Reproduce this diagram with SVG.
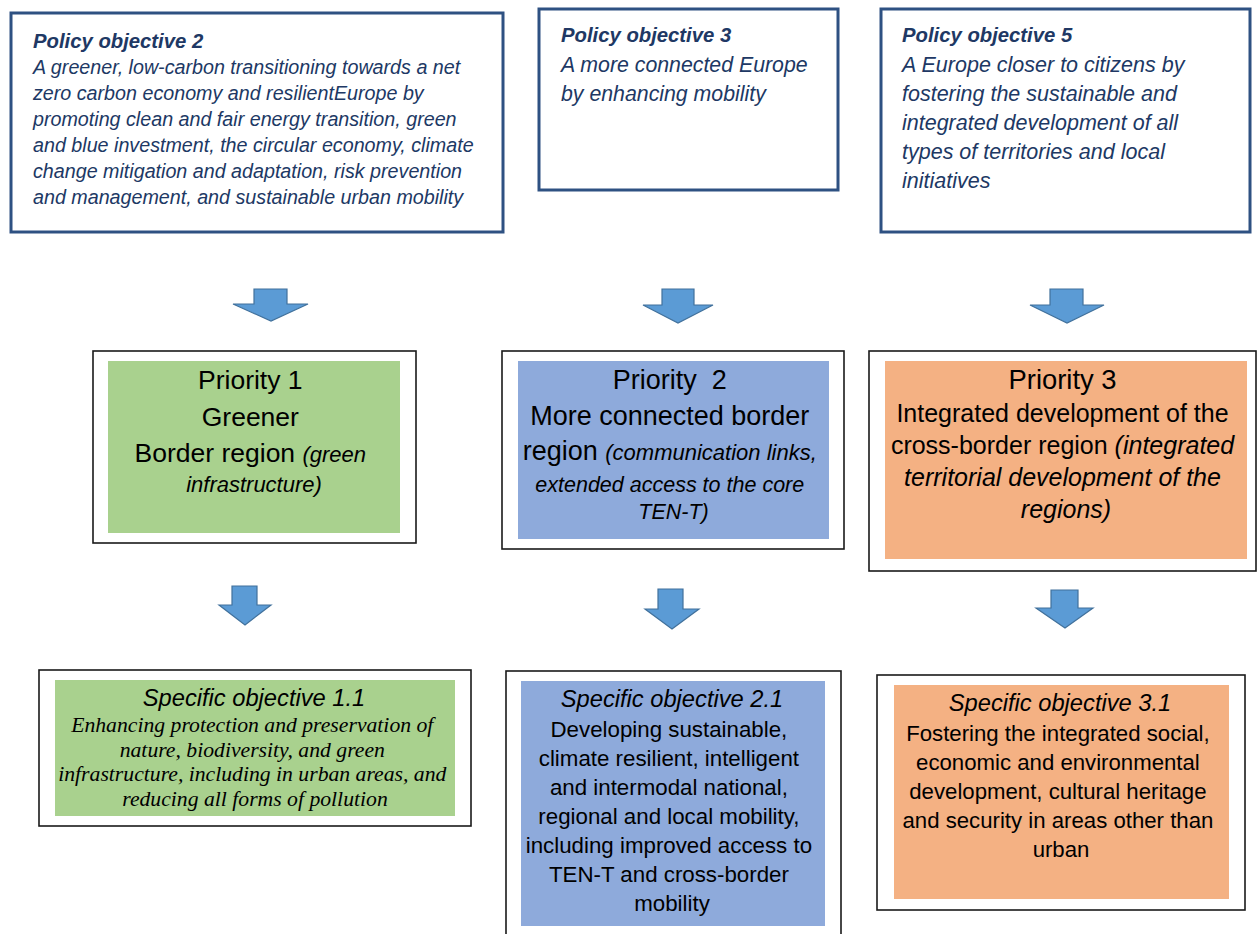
<svg xmlns="http://www.w3.org/2000/svg" width="1257" height="934" viewBox="0 0 1257 934">
<style>
.po{fill:#fff;stroke:#2E5182;stroke-width:3}
.ob{fill:#fff;stroke:#1a1a1a;stroke-width:1.6}
.g{fill:#A9D18E}.b{fill:#8EAADB}.o{fill:#F4B183}
.pt{font-family:"Liberation Sans",Arial,sans-serif;font-style:italic;font-weight:bold;font-size:20.3px;fill:#203864}
.pb{font-family:"Liberation Sans",Arial,sans-serif;font-style:italic;fill:#203864}
.t{font-family:"Liberation Sans",Arial,sans-serif;fill:#000;text-anchor:middle}
.i{font-style:italic}
.tr{font-family:"Liberation Serif","Times New Roman",serif;font-style:italic;fill:#000;text-anchor:middle;font-size:21.7px}
.arr{fill:#5B9BD5;stroke:#41719C;stroke-width:1.2;stroke-linejoin:miter}
</style>
<rect width="1257" height="934" fill="#fff"/>

<g id="po2">
<rect class="po" x="11" y="13" width="492" height="219"/>
<text class="pt" x="33" y="48">Policy objective 2</text>
<text class="pb" font-size="19.7">
<tspan x="33" y="74">A greener, low-carbon transitioning towards a net</tspan>
<tspan x="33" y="100">zero carbon economy and resilientEurope by</tspan>
<tspan x="33" y="126">promoting clean and fair energy transition, green</tspan>
<tspan x="33" y="152">and blue investment, the circular economy, climate</tspan>
<tspan x="33" y="178">change mitigation and adaptation, risk prevention</tspan>
<tspan x="33" y="204">and management, and sustainable urban mobility</tspan>
</text>
</g>

<g id="po3">
<rect class="po" x="539" y="9" width="299" height="181"/>
<text class="pt" x="561" y="42">Policy objective 3</text>
<text class="pb" font-size="21.3">
<tspan x="561" y="72">A more connected Europe</tspan>
<tspan x="561" y="101">by enhancing mobility</tspan>
</text>
</g>

<g id="po5">
<rect class="po" x="881" y="9" width="369" height="223"/>
<text class="pt" x="902" y="42">Policy objective 5</text>
<text class="pb" font-size="21.5">
<tspan x="902" y="72">A Europe closer to citizens by</tspan>
<tspan x="902" y="101">fostering the sustainable and</tspan>
<tspan x="902" y="130">integrated development of all</tspan>
<tspan x="902" y="159">types of territories and local</tspan>
<tspan x="902" y="188">initiatives</tspan>
</text>
</g>

<g id="priority1">
<rect class="ob" x="93" y="351" width="323" height="192"/>
<rect class="g" x="108" y="361" width="292" height="172"/>
<text class="t" font-size="26.5">
<tspan x="254" y="389">Priority 1</tspan>
<tspan x="254" y="425.5">Greener</tspan>
<tspan x="254" y="461.5">Border region <tspan class="i" font-size="22">(green</tspan></tspan>
<tspan x="254" y="491.5" class="i" font-size="22">infrastructure)</tspan>
</text>
</g>

<g id="priority2">
<rect class="ob" x="502" y="351" width="342" height="198"/>
<rect class="b" x="518" y="361" width="311" height="178"/>
<text class="t" font-size="27">
<tspan x="673.5" y="389" xml:space="preserve">Priority  2</tspan>
<tspan x="673.5" y="425">More connected border</tspan>
<tspan x="673.5" y="460">region <tspan class="i" font-size="22">(communication links,</tspan></tspan>
<tspan x="673.5" y="491.5" class="i" font-size="21.5">extended access to the core</tspan>
<tspan x="673.5" y="519" class="i" font-size="21.5">TEN-T)</tspan>
</text>
</g>

<g id="priority3">
<rect class="ob" x="869" y="351" width="387" height="220"/>
<rect class="o" x="885" y="361" width="362" height="198"/>
<text class="t" font-size="25">
<tspan x="1066" y="389" font-size="27.4">Priority 3</tspan>
<tspan x="1066" y="421.5">Integrated development of the</tspan>
<tspan x="1066" y="453.5">cross-border region <tspan class="i">(integrated</tspan></tspan>
<tspan x="1066" y="485.5" class="i">territorial development of the</tspan>
<tspan x="1066" y="517.5" class="i">regions)</tspan>
</text>
</g>

<g id="so11">
<rect class="ob" x="39" y="670" width="432" height="156"/>
<rect class="g" x="55" y="680" width="400" height="136"/>
<text class="t i" font-size="23.7" x="254" y="706">Specific objective 1.1</text>
<text class="tr">
<tspan x="255" y="732">Enhancing protection and preservation of</tspan>
<tspan x="255" y="756.5">nature, biodiversity, and green</tspan>
<tspan x="255" y="781">infrastructure, including in urban areas, and</tspan>
<tspan x="255" y="805.5">reducing all forms of pollution</tspan>
</text>
</g>

<g id="so21">
<rect class="ob" x="506" y="671" width="335" height="280"/>
<rect class="b" x="521" y="681" width="304" height="245"/>
<text class="t i" font-size="23.7" x="672" y="707">Specific objective 2.1</text>
<text class="t" font-size="22.3">
<tspan x="672" y="737">Developing sustainable,</tspan>
<tspan x="672" y="766">climate resilient, intelligent</tspan>
<tspan x="672" y="795">and intermodal national,</tspan>
<tspan x="672" y="824">regional and local mobility,</tspan>
<tspan x="672" y="853">including improved access to</tspan>
<tspan x="672" y="882">TEN-T and cross-border</tspan>
<tspan x="672" y="911">mobility</tspan>
</text>
</g>

<g id="so31">
<rect class="ob" x="877" y="675" width="368" height="235"/>
<rect class="o" x="894" y="685" width="335" height="214"/>
<text class="t i" font-size="23.7" x="1060" y="710.5">Specific objective 3.1</text>
<text class="t" font-size="22.2">
<tspan x="1061" y="741">Fostering the integrated social,</tspan>
<tspan x="1061" y="770">economic and environmental</tspan>
<tspan x="1061" y="799">development, cultural heritage</tspan>
<tspan x="1061" y="828">and security in areas other than</tspan>
<tspan x="1061" y="857">urban</tspan>
</text>
</g>

<g id="connectors">
<polygon class="arr" points="254,289 287,289 287,304 308,304 271,321 233,304 254,304"/>
<polygon class="arr" points="662,289 694,289 694,305 713,305 678,323 643,305 662,305"/>
<polygon class="arr" points="1050,289 1083,289 1083,305 1104,305 1067,323 1030,305 1050,305"/>
<polygon class="arr" points="232,586 257,586 257,605 271,605 245,625 219,605 232,605"/>
<polygon class="arr" points="658,589 683,589 683,609 699,609 672,629 645,609 658,609"/>
<polygon class="arr" points="1051,590 1078,590 1078,608 1093,608 1065,628 1036,608 1051,608"/>
</g>
</svg>
